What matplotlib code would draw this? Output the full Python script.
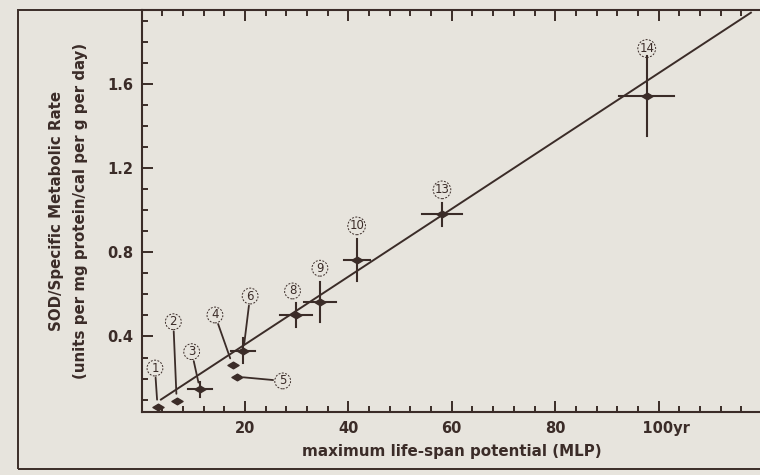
from matplotlib import pyplot as plt
from matplotlib.patches import Rectangle
from matplotlib.path import Path
from matplotlib.ticker import MultipleLocator
import numpy as np

# Data (species number, MLP in years, SOD/SMR)
species = ['1', '2', '3', '4', '5', '6', '8', '9', '10', '13', '14']
mlp = [3.1, 6.8, 11.3, 17.6, 18.4, 19.7, 29.8, 34.5, 41.7, 58.1, 97.7]
sod_smr = [0.067, 0.095, 0.149, 0.265, 0.209, 0.333, 0.502, 0.565, 0.763,
           0.980, 1.54]
mlp_err = [0, 0, 2.3, 0, 0, 2.3, 3.1, 3.1, 2.5, 3.9, 5.3]
sod_err = [0, 0, 0.037, 0, 0, 0.061, 0.057, 0.095, 0.098, 0.055, 0.19]

# label spots for the circled numbers
label_x = [2.6, 6.15, 9.7, 14.2, 27.3, 21.0, 29.2, 34.5, 41.6, 58.1, 97.7]
label_y = [0.25, 0.47, 0.328, 0.502, 0.189, 0.592, 0.616, 0.724, 0.925,
           1.096, 1.767]
leader = [True, True, True, True, True, True, False, False, False, False,
          False]

# regression line
fit_slope = 0.0161
fit_intercept = 0.040
fit_range = [3.6, 118.0]

ink = '#3b2c28'
paper = '#e7e4dd'

figure = plt.figure(figsize=(7.6, 4.75), dpi=100)
figure.patch.set_facecolor(paper)

# outer frame of the scanned figure
figure.patches.append(Rectangle((0.0237, 0.012), 1.2, 0.967, fill=False,
                                edgecolor=ink, linewidth=1.4,
                                transform=figure.transFigure, clip_on=False))

ax = figure.add_axes([0.1862, 0.132, 0.8165, 0.847])
ax.set_facecolor(paper)

xs = np.array(fit_range)
ax.plot(xs, fit_intercept + fit_slope * xs, color=ink, linewidth=1.4,
        solid_capstyle='butt')

# error bars (no caps)
for x, y, ex, ey in zip(mlp, sod_smr, mlp_err, sod_err):
    if ex > 0:
        ax.plot([x - ex, x + ex], [y, y], color=ink, linewidth=1.5)
    if ey > 0:
        ax.plot([x, x], [y - ey, y + ey], color=ink, linewidth=1.5)

# flat diamond markers
flat_diamond = Path([(-1, 0), (0, 0.6), (1, 0), (0, -0.6), (-1, 0)],
                    [Path.MOVETO, Path.LINETO, Path.LINETO, Path.LINETO,
                     Path.CLOSEPOLY])
ax.plot(mlp, sod_smr, linestyle='none', marker=flat_diamond, markersize=8,
        color=ink)

for name, x, y, lx, ly, lead in zip(species, mlp, sod_smr, label_x, label_y,
                                    leader):
    bbox = dict(boxstyle='circle,pad=0.12', facecolor='none', edgecolor=ink,
                linestyle=(0, (2, 1.5)), linewidth=0.7)
    if lead:
        ax.annotate(name, xy=(x, y), xytext=(lx, ly), fontsize=8.5,
                    color=ink, ha='center', va='center', bbox=bbox,
                    arrowprops=dict(arrowstyle='-', color=ink, linewidth=1.3,
                                    shrinkA=1, shrinkB=5))
    else:
        ax.text(lx, ly, name, fontsize=8.5, color=ink, ha='center',
                va='center', bbox=bbox)

ax.set_xlim(0, 120)
ax.set_ylim(0.04, 1.95)

ax.set_xticks([20, 40, 60, 80, 100])
ax.set_xticklabels(['20', '40', '60', '80', '   100yr'])
ax.xaxis.set_minor_locator(MultipleLocator(4))
ax.set_yticks([0.4, 0.8, 1.2, 1.6])
ax.set_yticklabels(['0.4', '0.8', '1.2', '1.6'])
ax.yaxis.set_minor_locator(MultipleLocator(0.1))

ax.tick_params(which='both', direction='in', top=True, right=False,
               color=ink, width=1.4, labelcolor=ink, labelsize=10.5)
ax.tick_params(which='major', length=8, pad=6)
ax.tick_params(which='minor', length=4.5)
for label in ax.get_xticklabels() + ax.get_yticklabels():
    label.set_fontweight('bold')

for side in ['left', 'bottom', 'top']:
    ax.spines[side].set_color(ink)
    ax.spines[side].set_linewidth(1.5)
ax.spines['right'].set_visible(False)

ax.set_xlabel('maximum life-span potential (MLP)', fontsize=10.9,
              color=ink, fontweight='bold', labelpad=6)
ax.set_ylabel('SOD/Specific Metabolic Rate\n'
              '(units per mg protein/cal per g per day)', fontsize=10.8,
              color=ink, fontweight='bold', labelpad=14, linespacing=1.75)

plt.savefig('out.png', dpi=100, facecolor=paper)
